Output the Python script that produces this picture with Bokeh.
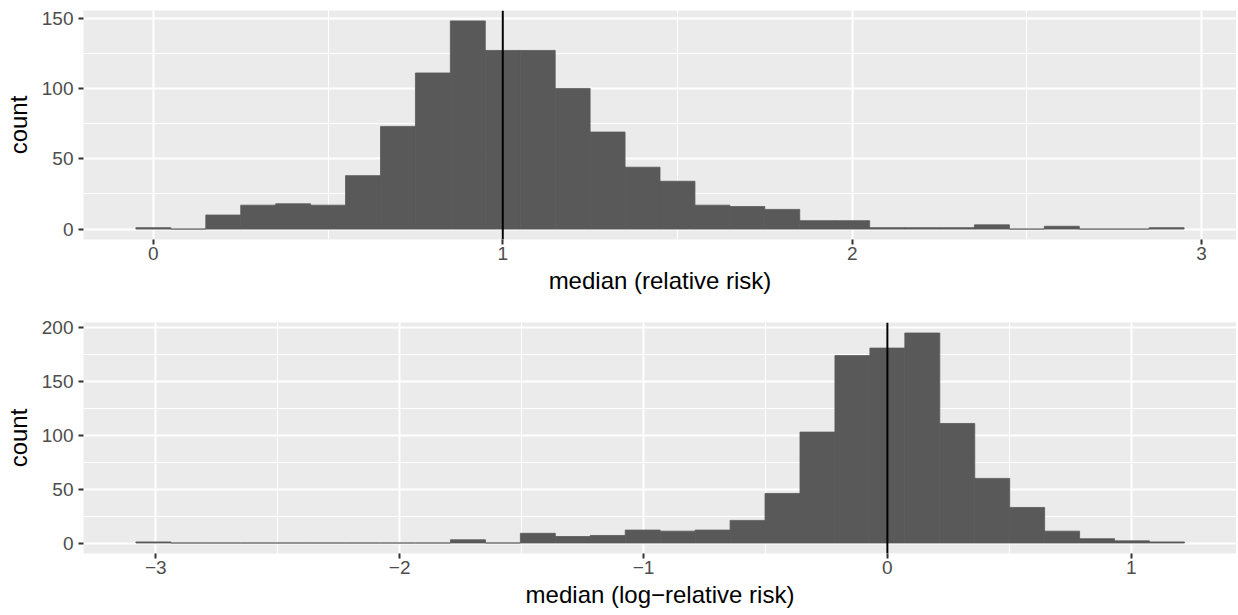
import numpy as np
from bokeh.plotting import figure
from bokeh.models import Range1d, FixedTicker, Span, CustomJSTickFormatter, ColumnDataSource
from bokeh.layouts import column
from bokeh.embed import file_html
from bokeh.resources import INLINE

# ---------------- data ----------------
# panel 1: histogram of median relative risk (30 bins of width 0.1)
rr_bin_left = -0.05
rr_bin_width = 0.1
rr_counts = [1, 0, 10, 17, 18, 17, 38, 73, 111, 148,
             127, 127, 100, 69, 44, 34, 17, 16, 14, 6,
             6, 1, 1, 1, 3, 0, 2, 0, 0, 1]
rr_reference = 1.0
rr_ticks = [0, 1, 2, 3]
rr_minor = [-0.5, 0.5, 1.5, 2.5, 3.5]
rr_yticks = [0, 50, 100, 150]
rr_yminor = [-25, 25, 75, 125, 175]
rr_label = "median (relative risk)"

# panel 2: histogram of median log-relative risk (30 bins)
log_bin_left = -3.0817
log_bin_width = 0.14333
log_counts = [1, 0, 0, 0, 0, 0, 0, 0, 0, 3,
              0, 9, 6, 7, 12, 11, 12, 21, 46, 103,
              174, 181, 195, 111, 60, 33, 11, 4, 2, 1]
log_reference = 0.0
log_ticks = [-3, -2, -1, 0, 1]
log_minor = [-3.5, -2.5, -1.5, -0.5, 0.5, 1.5]
log_yticks = [0, 50, 100, 150, 200]
log_yminor = [-25, 25, 75, 125, 175, 225]
log_label = "median (log\u2212relative risk)"

FONT = "Liberation Sans"
BAR = "#595959"


def make_panel(counts, left, width, ref, ticks, minor, xr, yr, yticks, yminor,
               xlabel, fig_h, b_top, b_bottom):
    n = len(counts)
    edges = left + width * np.arange(n + 1)
    src = ColumnDataSource(dict(left=edges[:-1], right=edges[1:],
                                top=counts, bottom=[0] * n))
    p = figure(width=1236, height=fig_h, output_backend="svg",
               toolbar_location=None, x_range=xr, y_range=yr,
               min_border_left=83, min_border_right=0,
               min_border_top=b_top, min_border_bottom=b_bottom)
    p.background_fill_color = "#EBEBEB"
    p.border_fill_color = "white"
    p.outline_line_color = None

    p.quad(left="left", right="right", top="top", bottom="bottom", source=src,
           fill_color=BAR, line_color=BAR, line_width=0.8)
    p.add_layout(Span(location=ref, dimension="height",
                      line_color="black", line_width=2))

    p.xaxis.ticker = FixedTicker(ticks=ticks, minor_ticks=minor)
    p.yaxis.ticker = FixedTicker(ticks=yticks, minor_ticks=yminor)
    p.xaxis.formatter = CustomJSTickFormatter(
        code="return tick < 0 ? '\\u2212' + Math.abs(tick) : String(tick);")

    for g in (p.xgrid, p.ygrid):
        g.grid_line_color = "white"
        g.grid_line_width = 2
        g.minor_grid_line_color = "white"
        g.minor_grid_line_width = 1

    ax = p.axis
    ax.axis_line_color = None
    ax.major_tick_line_color = "#333333"
    ax.major_tick_line_width = 2
    ax.major_tick_in = 0
    ax.major_tick_out = 5
    ax.minor_tick_line_color = None
    ax.major_label_text_color = "#4D4D4D"
    ax.major_label_text_font = FONT
    ax.major_label_text_font_size = "19px"
    ax.axis_label_text_font = FONT
    ax.axis_label_text_font_size = "24px"
    ax.axis_label_text_font_style = "normal"
    ax.axis_label_text_color = "black"
    p.xaxis.axis_label = xlabel
    p.yaxis.axis_label = "count"
    p.xaxis.major_label_standoff = 2
    p.xaxis.axis_label_standoff = 4
    p.yaxis.major_label_standoff = 5
    p.yaxis.axis_label_standoff = 7
    return p


p1 = make_panel(rr_counts, rr_bin_left, rr_bin_width, rr_reference,
                rr_ticks, rr_minor, Range1d(-0.2, 3.1), Range1d(-7.4, 155.4),
                rr_yticks, rr_yminor, rr_label, 296, 10, 54)
p2 = make_panel(log_counts, log_bin_left, log_bin_width, log_reference,
                log_ticks, log_minor, Range1d(-3.2967, 1.4317), Range1d(-9.75, 204.75),
                log_yticks, log_yminor, log_label, 317, 26, 60)

layout = column(p1, p2, spacing=0)
open("out.html", "w").write(file_html(layout, INLINE))
